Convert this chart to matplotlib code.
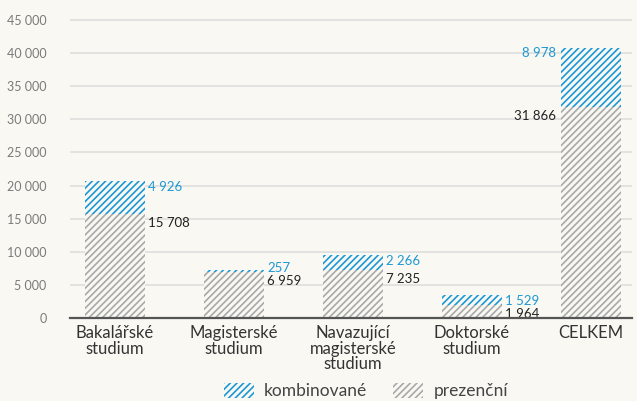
import matplotlib
matplotlib.use("Agg")
import matplotlib.pyplot as plt
from matplotlib.patches import Patch
from matplotlib.transforms import offset_copy

categories = ["Bakalářské\nstudium", "Magisterské\nstudium", "Navazující\nmagisterské\nstudium",
              "Doktorské\nstudium", "CELKEM"]
prezencni = [15708, 6959, 7235, 1964, 31866]
kombinovane = [4926, 257, 2266, 1529, 8978]
yticks = [0, 5000, 10000, 15000, 20000, 25000, 30000, 35000, 40000, 45000]

def fmt(v):
    return f"{v:,}".replace(",", " ")

BG = "#f9f8f2"
BLUE = "#1d98d5"
GRAY = "#a9a9a9"
HATCH = "/////"

plt.rcParams["font.family"] = ["Lato", "DejaVu Sans"]
plt.rcParams["hatch.linewidth"] = 1.2

W, H = 637, 401
fig = plt.figure(figsize=(W / 100, H / 100), dpi=100, facecolor=BG)
ax = fig.add_axes([70 / W, 83 / H, 562 / W, 313 / H], facecolor=BG)

x = list(range(len(categories)))
ax.bar(x, prezencni, width=0.51, facecolor=BG, edgecolor=GRAY, hatch=HATCH, linewidth=0, zorder=2)
ax.bar(x, kombinovane, bottom=prezencni, width=0.51, facecolor=BG, edgecolor=BLUE, hatch=HATCH,
       linewidth=0, zorder=2)

ax.set_xlim(-0.378, 4.345)
ax.set_ylim(0, 45000 * 313 / 298)
ax.set_yticks(yticks)
ax.set_yticklabels([fmt(v) for v in yticks], color="#7a7a7a", fontsize=9)
ax.tick_params(axis="y", length=0, pad=17)
ax.tick_params(axis="x", length=0, pad=5)
ax.set_xticks(x)
ax.set_xticklabels(categories, fontsize=12, color="#333333", linespacing=0.98, va="top")
ax.grid(axis="y", color="#dcdcdc", linewidth=1.1, zorder=0)
ax.set_axisbelow(True)
for s in ["top", "right", "left"]:
    ax.spines[s].set_visible(False)
ax.spines["bottom"].set_color("#555555")
ax.spines["bottom"].set_linewidth(1.6)
ax.spines["bottom"].set_zorder(3)

# value labels
px = (45000 * 313 / 298) / 313.0  # data units per pixel
hw = 0.51 / 2
last = len(prezencni) - 1
for i, (p, k) in enumerate(zip(prezencni, kombinovane)):
    tot = p + k
    gray_c = p - 9 * px
    if i < last:
        blue_c = max(tot - 6 * px, gray_c + 13 * px)
        xx, ha, dx = i + hw, "left", 3
    else:
        blue_c = tot - 5 * px
        xx, ha, dx = i - hw, "right", -5
    tr = offset_copy(ax.transData, fig=fig, x=dx, y=0, units="dots")
    ax.text(xx, gray_c, fmt(p), ha=ha, va="center", fontsize=9.5, color="#222222", transform=tr)
    ax.text(xx, blue_c, fmt(k), ha=ha, va="center", fontsize=9.5, color=BLUE, transform=tr)

handles = [Patch(facecolor=BG, edgecolor=BLUE, hatch=HATCH, linewidth=0, label="kombinované"),
           Patch(facecolor=BG, edgecolor=GRAY, hatch=HATCH, linewidth=0, label="prezenční")]
leg = fig.legend(handles=handles, loc="center", bbox_to_anchor=(366 / W, 1 - 391 / H), ncol=2,
                 frameon=False, fontsize=12.5, handlelength=1.7, handleheight=0.95,
                 columnspacing=1.5, handletextpad=0.6, labelcolor="#444444")

fig.savefig("out.png", dpi=100, facecolor=BG)
